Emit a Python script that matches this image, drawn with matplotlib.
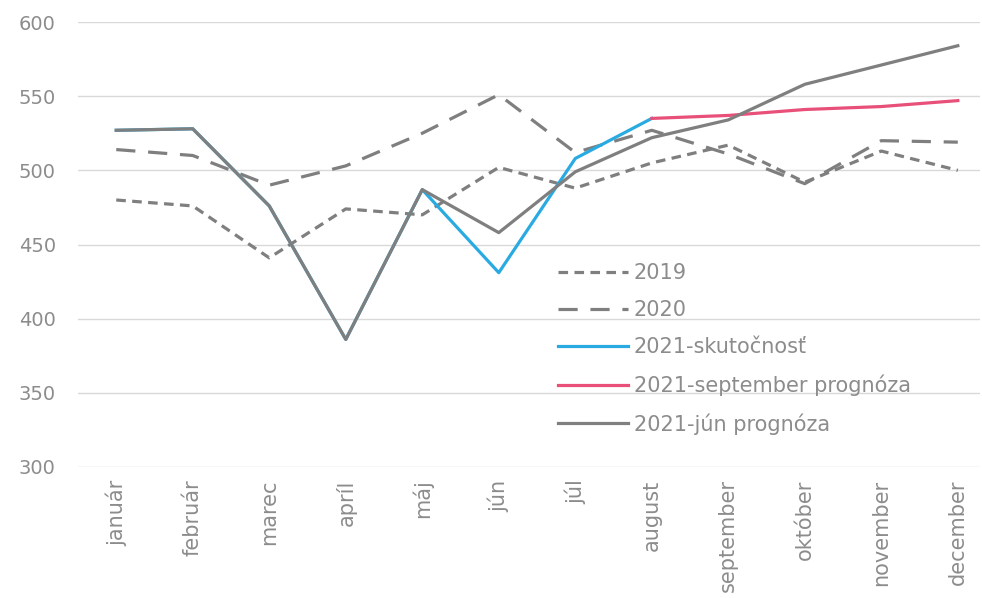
import matplotlib
matplotlib.use("Agg")
import matplotlib.pyplot as plt
import numpy as np

months = ["január", "február", "marec", "apríl", "máj", "jún",
          "júl", "august", "september", "október", "november", "december"]

y2019 = [480, 476, 441, 474, 470, 502, 488, 505, 517, 492, 513, 500]
y2020 = [514, 510, 490, 503, 525, 551, 512, 527, 511, 491, 520, 519]
actual_2021 = [527, 528, 476, 386, 487, 431, 508, 535,
               np.nan, np.nan, np.nan, np.nan]
sep_forecast = [np.nan, np.nan, np.nan, np.nan, np.nan, np.nan, np.nan,
                535, 537, 541, 543, 547]
jun_forecast = [527, 528, 476, 386, 487, 458, 499, 522, 534, 558, 571, 584]

GRAY = "#7f7f7f"
BLUE = "#29abe2"
PINK = "#e8507a"
TEXT = "#8c8c8c"

plt.rcParams.update({
    "font.family": "DejaVu Sans",
    "font.size": 14,
})

fig = plt.figure(figsize=(9.82, 5.98), dpi=100)
ax = fig.add_axes([78 / 982, 1 - 467 / 598, (980 - 78) / 982, (467 - 22) / 598])

x = np.arange(len(months))
lw = 2.3
ax.plot(x, y2019, color=GRAY, lw=lw, ls=(0, (3, 2)), label="2019")
ax.plot(x, y2020, color=GRAY, lw=lw, ls=(0, (6, 4)), label="2020")
ax.plot(x, actual_2021, color=BLUE, lw=lw, label="2021-skutočnosť")
ax.plot(x, sep_forecast, color=PINK, lw=lw, label="2021-september prognóza")
ax.plot(x, jun_forecast, color=GRAY, lw=lw, label="2021-jún prognóza")

ax.set_ylim(300, 600)
ax.set_yticks(range(300, 601, 50))
ax.set_xlim(-0.5, 11.29)
ax.set_xticks(x)
ax.set_xticklabels(months, rotation=90)
ax.grid(axis="y", color="#d9d9d9", lw=1)
ax.set_axisbelow(True)
for s in ax.spines.values():
    s.set_visible(False)
ax.tick_params(length=0, colors=TEXT)
ax.tick_params(axis="y", pad=16, labelsize=14)
ax.tick_params(axis="x", pad=9, labelsize=15)

leg = ax.legend(loc="upper left", bbox_to_anchor=(0.532, 0.458), frameon=False,
                borderaxespad=0, borderpad=0,
                handlelength=3.35, handletextpad=0.3, labelspacing=0.82,
                fontsize=15)
for t in leg.get_texts():
    t.set_color(TEXT)

fig.savefig("out.png", dpi=100)
